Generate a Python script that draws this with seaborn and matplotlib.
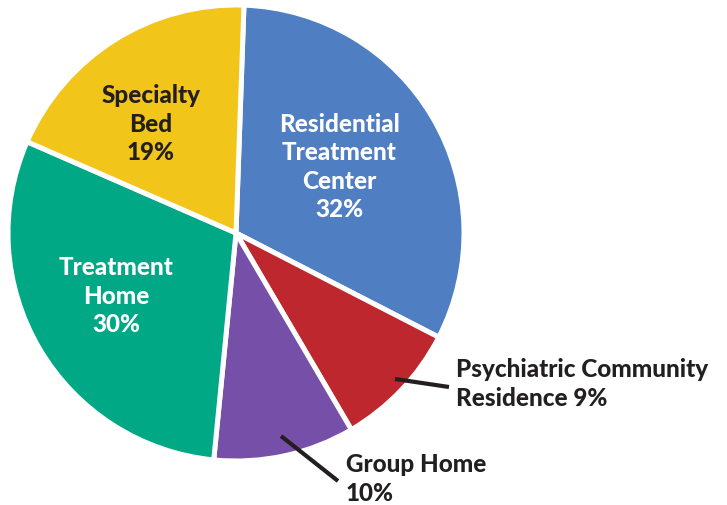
import matplotlib
matplotlib.use("Agg")
import matplotlib.pyplot as plt
import seaborn as sns

# -----------------------------------------
# Data
# -----------------------------------------
categories = ["Residential Treatment Center", "Psychiatric Community Residence",
              "Group Home", "Treatment Home", "Specialty Bed"]
shares = [32, 9, 10, 30, 19]
colors = ["#4F7FC2", "#BE272D", "#764FA8", "#00A886", "#F2C51A"]

sns.set_theme(style="white")
plt.rcParams["font.family"] = ["Lato", "DejaVu Sans"]

# -----------------------------------------
# Figure in pixel-like units
# -----------------------------------------
fig = plt.figure(figsize=(7.27, 5.06), dpi=100)
ax = fig.add_axes([0, 0, 1, 1])
ax.set_xlim(0, 727)
ax.set_ylim(0, 506)
ax.set_aspect("equal")
ax.axis("off")

cx, cy, r = 236, 506 - 234, 228
wedges, _ = ax.pie(shares, colors=sns.color_palette(colors), startangle=88,
                   counterclock=False, center=(cx, cy), radius=r,
                   wedgeprops=dict(edgecolor="white", linewidth=3.6))
ax.set_xlim(0, 727)
ax.set_ylim(0, 506)

dark = "#231F20"
fs = 17.5
kw = dict(fontsize=fs, fontweight="black", va="center", linespacing=1.27)

# inside labels
ax.text(339, 506 - 167, "Residential\nTreatment\nCenter\n32%", color="white",
        ha="center", **kw)
ax.text(151, 506 - 124, "Specialty\nBed\n19%", color=dark, ha="center", **kw)
ax.text(116, 506 - 296, "Treatment\nHome\n30%", color="white", ha="center", **kw)

# outside labels with leader lines
ax.plot([395, 449], [506 - 380, 506 - 388], color=dark, lw=3, solid_capstyle="butt")
ax.text(456, 506 - 384, "Psychiatric Community\nResidence 9%", color=dark,
        ha="left", **kw)
ax.plot([281, 338], [506 - 437, 506 - 482], color=dark, lw=3, solid_capstyle="butt")
ax.text(346, 506 - 479, "Group Home\n10%", color=dark, ha="left", **kw)

fig.savefig("out.png", dpi=100, facecolor="white")
